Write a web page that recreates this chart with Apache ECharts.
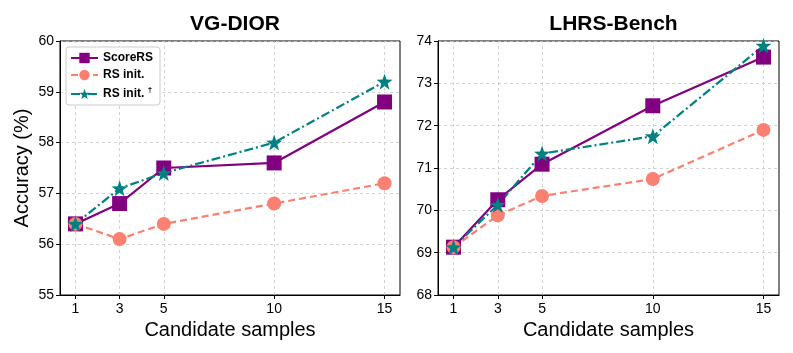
<!DOCTYPE html>
<html>
<head>
<meta charset="utf-8">
<script src="https://cdn.jsdelivr.net/npm/echarts@6/dist/echarts.min.js"></script>
<style>
html, body { margin: 0; padding: 0; background: #fff; }
#chart { width: 793px; height: 353px; }
</style>
</head>
<body>
<div id="chart"></div>
<script>
// candidate samples (x)
const samples = [1, 3, 5, 10, 15]
const titles = ['VG-DIOR', 'LHRS-Bench']

// VG-DIOR
const vgScoreRS = [56.4, 56.8, 57.5, 57.6, 58.8]
const vgRSInit = [56.4, 56.1, 56.4, 56.8, 57.2]
const vgRSInitDagger = [56.4, 57.1, 57.4, 58.0, 59.2]

// LHRS-Bench
const lhScoreRS = [69.13, 70.25, 71.09, 72.47, 73.62]
const lhRSInit = [69.13, 69.88, 70.34, 70.74, 71.90]
const lhRSInitDagger = [69.13, 70.13, 71.34, 71.75, 73.89]

const yRanges = [[55, 60], [68, 74]]

const font = 'Liberation Sans, Arial, sans-serif'
const purple = '#800080'
const salmon = '#FA8072'
const teal = '#008080'
const star = 'path://M0,-10L2.35,-3.24L9.51,-3.09L3.8,1.24L5.88,8.09L0,4L-5.88,8.09L-3.8,1.24L-9.51,-3.09L-2.35,-3.24Z'

const pairs = (ys) => samples.map((x, i) => [x, ys[i]])

const grids = [
	{ left: 60, top: 41, width: 340, height: 254 },
	{ left: 438, top: 41, width: 341, height: 254 },
]

const xAxis = grids.map((g, i) => ({
	type: 'value',
	gridIndex: i,
	min: 0.3,
	max: 15.7,
	name: 'Candidate samples',
	nameLocation: 'middle',
	nameGap: 25,
	nameTextStyle: { fontFamily: font, fontSize: 20, color: '#000' },
	axisLine: { show: true, lineStyle: { color: '#000', width: 1 } },
	axisTick: { show: true, length: 4, inside: false, customValues: samples, lineStyle: { color: '#000' } },
	axisLabel: { customValues: samples, fontFamily: font, fontSize: 14, color: '#000', margin: 7 },
	splitLine: { show: false },
}))

const yAxis = grids.map((g, i) => ({
	type: 'value',
	gridIndex: i,
	min: yRanges[i][0],
	max: yRanges[i][1],
	interval: 1,
	name: i === 0 ? 'Accuracy (%)' : '',
	nameLocation: 'middle',
	nameGap: 28,
	nameTextStyle: { fontFamily: font, fontSize: 20, color: '#000' },
	axisLine: { show: true, lineStyle: { color: '#000', width: 1 } },
	axisTick: { show: true, length: 4, lineStyle: { color: '#000' } },
	axisLabel: { fontFamily: font, fontSize: 14, color: '#000', margin: 6 },
	splitLine: { show: true, lineStyle: { color: '#c8c8c8', type: [3, 3], width: 0.8 } },
}))

function makeSeries(idx, name, ys, color, symbol, size, dash) {
	return {
		name: name,
		type: 'line',
		xAxisIndex: idx,
		yAxisIndex: idx,
		data: pairs(ys),
		symbol: symbol,
		symbolSize: size,
		lineStyle: { color: color, width: 2.2, type: dash },
		itemStyle: { color: color },
		z: 3,
	}
}

// vertical grid lines at sample positions
const vGrid = grids.map((g, i) => ({
	type: 'line',
	xAxisIndex: i,
	yAxisIndex: i,
	data: [],
	silent: true,
	z: 1,
	markLine: {
		z: 1,
		silent: true,
		symbol: 'none',
		label: { show: false },
		lineStyle: { color: '#c8c8c8', type: [3, 3], width: 0.8 },
		data: samples.map((x) => ({ xAxis: x })),
	},
}))

const series = [
	...vGrid,
	makeSeries(0, 'ScoreRS', vgScoreRS, purple, 'rect', 15, 'solid'),
	makeSeries(0, 'RS init.', vgRSInit, salmon, 'circle', 14, [7, 4]),
	makeSeries(0, 'RS init. †', vgRSInitDagger, teal, star, 16, [9, 3, 2, 3]),
	makeSeries(1, 'ScoreRS', lhScoreRS, purple, 'rect', 15, 'solid'),
	makeSeries(1, 'RS init.', lhRSInit, salmon, 'circle', 14, [7, 4]),
	makeSeries(1, 'RS init. †', lhRSInitDagger, teal, star, 16, [9, 3, 2, 3]),
]

const option = {
	backgroundColor: '#fff',
	animation: false,
	title: titles.map((t, i) => ({
		text: t,
		left: grids[i].left + grids[i].width / 2,
		textAlign: 'center',
		top: 9,
		textStyle: { fontFamily: font, fontSize: 21, fontWeight: 'bold', color: '#000' },
	})),
	legend: {
		data: ['ScoreRS', 'RS init.', 'RS init. †'],
		orient: 'vertical',
		left: 66,
		top: 47,
		itemWidth: 27,
		itemHeight: 13,
		itemGap: 5,
		padding: [5, 7, 5, 4],
		backgroundColor: '#fff',
		borderColor: '#cccccc',
		borderWidth: 1,
		borderRadius: 3,
		formatter: (name) => name.indexOf('†') >= 0 ? '{t|RS init.} {s|†}' : '{t|' + name + '}',
		textStyle: {
			fontFamily: font, fontSize: 12, fontWeight: 'bold', color: '#000',
			rich: {
				t: { fontFamily: font, fontSize: 12, fontWeight: 'bold', color: '#000' },
				s: { fontFamily: font, fontSize: 8, color: '#000', verticalAlign: 'bottom', padding: [0, 0, 8, 0] },
			},
		},
	},
	grid: grids.map((g) => ({
		...g,
		show: true,
		borderColor: '#000',
		borderWidth: 1,
		backgroundColor: 'transparent',
	})),
	xAxis: xAxis,
	yAxis: yAxis,
	series: series,
}

const myChart = echarts.init(document.getElementById('chart'))
myChart.setOption(option)
</script>
</body>
</html>
